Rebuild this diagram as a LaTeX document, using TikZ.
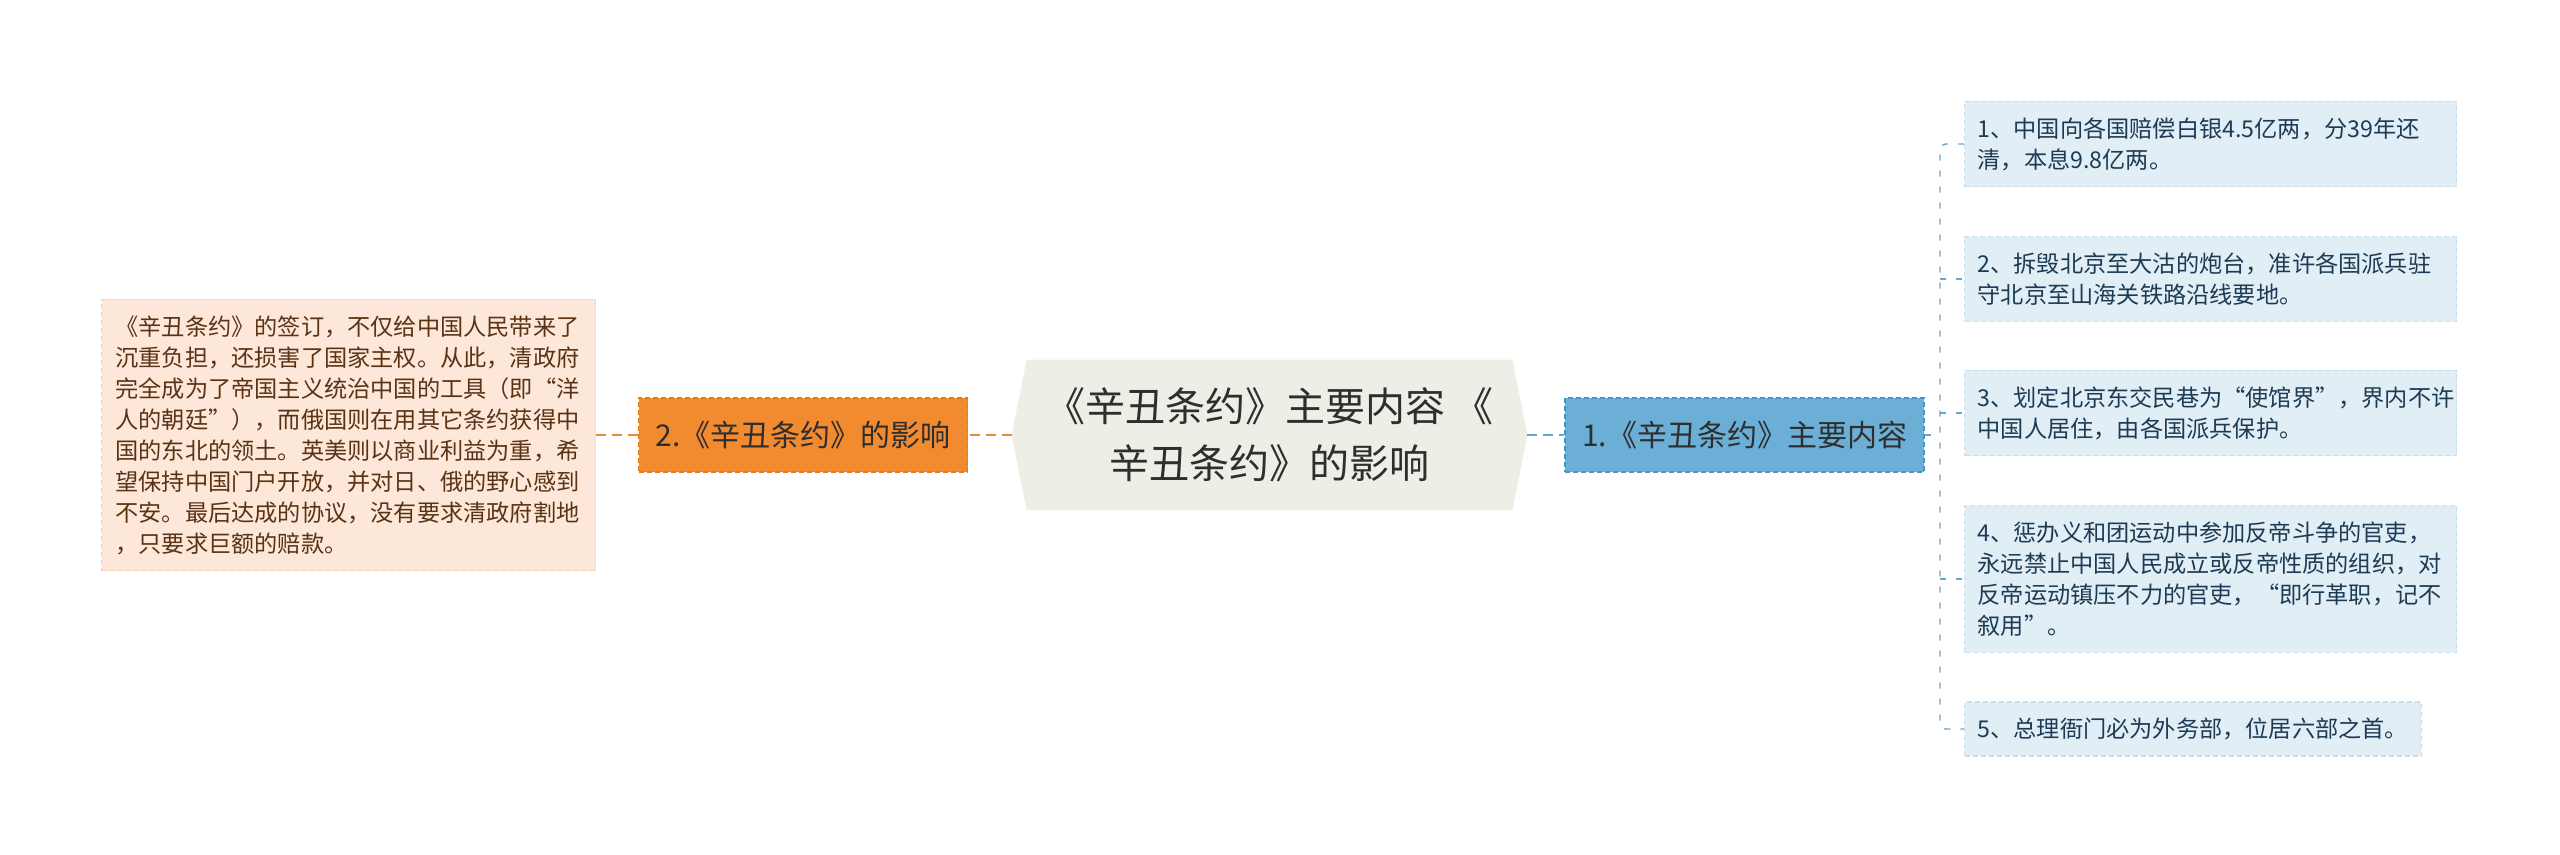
\documentclass[tikz,border=0pt]{standalone}
\usepackage{fontspec}
\setmainfont{Noto Sans CJK SC}
\usetikzlibrary{backgrounds}

\definecolor{rootfill}{HTML}{EEEEE6}
\definecolor{darktext}{HTML}{2E2E2E}
\definecolor{orangefill}{HTML}{F28B30}
\definecolor{orangeline}{HTML}{E27718}
\definecolor{orangeconn}{HTML}{F08A2E}
\definecolor{peachfill}{HTML}{FCE7D8}
\definecolor{peachline}{HTML}{F4D3BA}
\definecolor{peachtext}{HTML}{5A3315}
\definecolor{bluefill}{HTML}{6BAED6}
\definecolor{blueline}{HTML}{4A95C3}
\definecolor{blueconn}{HTML}{5FA8D3}
\definecolor{leaffill}{HTML}{E1EEF6}
\definecolor{leafline}{HTML}{C8DEEC}
\definecolor{leafconn}{HTML}{6AA6C8}
\definecolor{leaftext}{HTML}{1D3B55}

\begin{document}
\begin{tikzpicture}[x=0.5pt,y=-0.5pt,
		boxdash/.style={dash pattern=on 2.5pt off 1.5pt, line width=0.6pt},
		topic/.style={boxdash, font=\fontsize{15}{18}\selectfont, text=darktext, inner xsep=8.5pt, minimum height=37pt},
		note/.style={boxdash, font=\fontsize{11.6}{15.5}\selectfont, align=left, inner ysep=8pt},
		leaf/.style={note, fill=leaffill, draw=leafline, text=leaftext, inner xsep=6.5pt, anchor=west},
		link/.style={line width=1pt, dash pattern=on 5pt off 3pt},
		sublink/.style={draw=leafconn, line width=0.7pt, dash pattern=on 3pt off 5pt, rounded corners=3pt}]
		
		\useasboundingbox (0,0) rectangle (2560,855);
		
		\node[font=\fontsize{20}{28.5}\selectfont, text=darktext, align=center, minimum width=257.5pt, minimum height=75pt] (root) at (1269.5,435) {《辛丑条约》主要内容 《\\辛丑条约》的影响};
		\begin{scope}[on background layer]
			\fill[rootfill] ([xshift=7.5pt]root.north west) -- ([xshift=-7.5pt]root.north east) -- (root.east)
			-- ([xshift=-7.5pt]root.south east) -- ([xshift=7.5pt]root.south west) -- (root.west) -- cycle;
		\end{scope}
		
		\node[topic, fill=orangefill, draw=orangeline] (impact) at (803,435) {2.《辛丑条约》的影响};
		\node[topic, fill=bluefill, draw=blueline] (content) at (1744.5,435) {1.《辛丑条约》主要内容};
		
		\node[note, fill=peachfill, draw=peachline, text=peachtext, text width=233pt, inner xsep=7pt] (impactnote) at (348.5,435)
		{《辛丑条约》的签订，不仅给中国人民带来了\\沉重负担，还损害了国家主权。从此，清政府\\完全成为了帝国主义统治中国的工具（即“洋\\人的朝廷”），而俄国则在用其它条约获得中\\国的东北的领土。英美则以商业利益为重，希\\望保持中国门户开放，并对日、俄的野心感到\\不安。最后达成的协议，没有要求清政府割地\\，只要求巨额的赔款。};
		
		\node[leaf, text width=233pt] (c1) at (1964,144) {1、中国向各国赔偿白银4.5亿两，分39年还\\清，本息9.8亿两。};
		\node[leaf, text width=233pt] (c2) at (1964,279) {2、拆毁北京至大沽的炮台，准许各国派兵驻\\守北京至山海关铁路沿线要地。};
		\node[leaf, text width=233pt] (c3) at (1964,413) {3、划定北京东交民巷为“使馆界”，界内不许\\中国人居住，由各国派兵保护。};
		\node[leaf, text width=233pt] (c4) at (1964,579) {4、惩办义和团运动中参加反帝斗争的官吏，\\永远禁止中国人民成立或反帝性质的组织，对\\反帝运动镇压不力的官吏，“即行革职，记不\\叙用”。};
		\node[leaf] (c5) at (1964,729) {5、总理衙门必为外务部，位居六部之首。};
		
		\draw[link, draw=orangeconn] (root.west) -- (impact.east);
		\draw[link, draw=orangeconn, line width=0.7pt] (impact.west) -- (impactnote.east);
		\draw[link, draw=blueconn] (root.east) -- (content.west);
		
		\coordinate (trunk) at (1940,435);
		\draw[sublink] (content.east) -- (trunk);
		\draw[sublink] (c1.west) -| (trunk) |- (c5.west);
		\foreach \i in {2,3,4}
			\draw[sublink] (trunk |- c\i.west) -- (c\i.west);
		
	\end{tikzpicture}
\end{document}
